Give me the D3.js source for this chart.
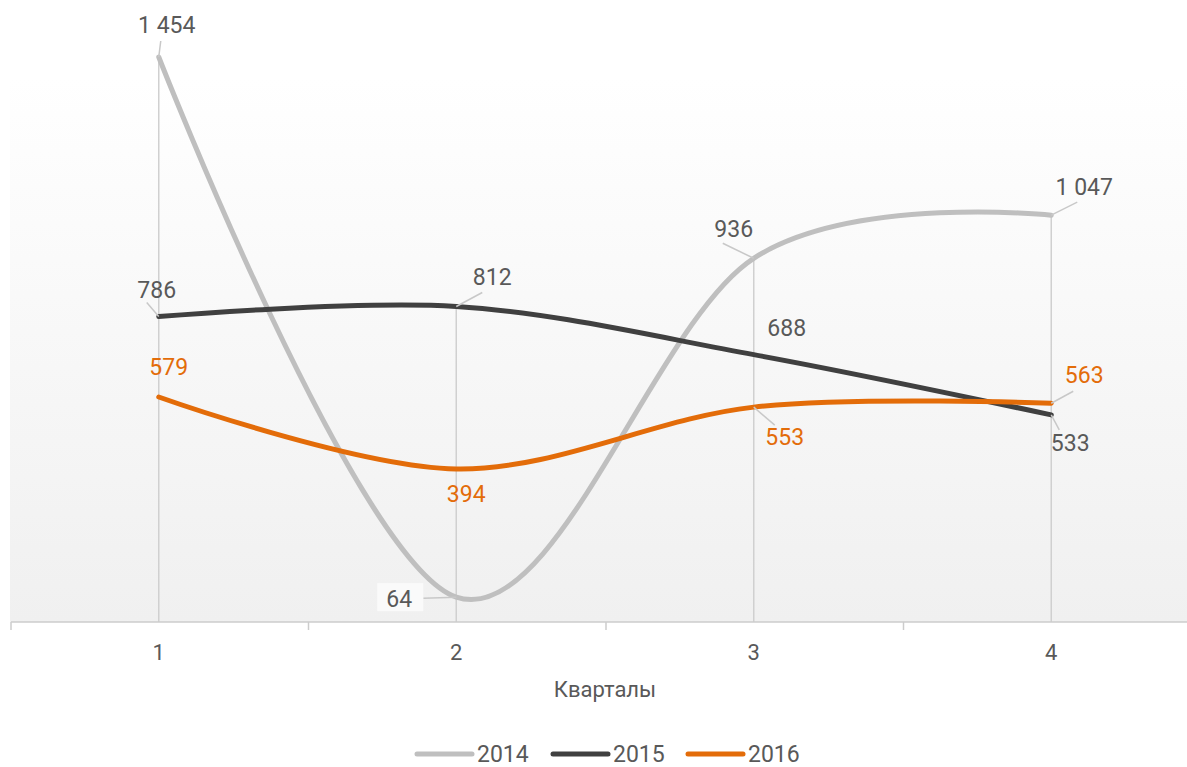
<!DOCTYPE html>
<html>
<head>
<meta charset="utf-8">
<script src="https://cdn.jsdelivr.net/npm/d3@7"></script>
<style>
  body { margin: 0; background: #ffffff; }
  svg { display: block; font-family: Roboto, "Noto Sans", sans-serif; }
</style>
</head>
<body>
<div id="chart"></div>
<script>
// Дані графіка
const quarters = ["1", "2", "3", "4"];
const years = ["2014", "2015", "2016"];
const values2014 = [1454, 64, 936, 1047];
const values2015 = [786, 812, 688, 533];
const values2016 = [579, 394, 553, 563];
const colors = ["#bfbfbf", "#404040", "#e36c09"];
const labelColors = ["#595959", "#595959", "#e36c09"];

const series = [values2014, values2015, values2016];

// Зміщення підписів відносно точок (dx, dy — центр/базова лінія тексту; lx, ly — кінець виноски)
const labelPlacement = [
    [{ dx: 8, dy: -24, lx: 2, ly: -16 }, { dx: -57, dy: 10, lx: -33, ly: 1, box: true }, { dx: -20, dy: -21, lx: -31, ly: -15 }, { dx: 33, dy: -20, lx: 26, ly: -13 }],
    [{ dx: -2, dy: -19, lx: -12, ly: -14 }, { dx: 36, dy: -21, lx: 26, ly: -14 }, { dx: 33, dy: -19 }, { dx: 19, dy: 36, lx: 8, ly: 15 }],
    [{ dx: 10, dy: -22 }, { dx: 10, dy: 33 }, { dx: 31, dy: 38, lx: 21, ly: 18 }, { dx: 33, dy: -20, lx: 22, ly: -12 }]
];

const W = 1187, H = 767;
const plot = { left: 10, right: 1200, top: 78, bottom: 622 };

const svg = d3.select("#chart").append("svg")
    .attr("width", W)
    .attr("height", H);

const x = d3.scaleBand()
    .domain(quarters)
    .range([plot.left, plot.right]);

const y = d3.scaleLinear()
    .domain([0, 1400])
    .range([plot.bottom, plot.top]);

const cx = q => x(q) + x.bandwidth() / 2;

// Фон області побудови з градієнтом
const grad = svg.append("defs").append("linearGradient")
    .attr("id", "bg")
    .attr("x1", 0).attr("y1", 0).attr("x2", 0).attr("y2", 1);
grad.append("stop").attr("offset", "0%").attr("stop-color", "#ffffff");
grad.append("stop").attr("offset", "100%").attr("stop-color", "#f0f0f0");

svg.append("rect")
    .attr("x", plot.left)
    .attr("y", plot.top)
    .attr("width", plot.right - plot.left)
    .attr("height", plot.bottom - plot.top)
    .attr("fill", "url(#bg)");

// Вертикальні лінії від найвищої точки до осі
svg.append("g").selectAll("line")
    .data(quarters)
    .enter()
    .append("line")
    .attr("x1", d => cx(d))
    .attr("x2", d => cx(d))
    .attr("y1", (d, i) => y(d3.max(series, s => s[i])))
    .attr("y2", plot.bottom)
    .attr("stroke", "#d0d0d0")
    .attr("stroke-width", 1.5);

// Вісь X
const xAxis = svg.append("g")
    .attr("transform", `translate(0,${plot.bottom})`);
xAxis.append("line")
    .attr("x1", plot.left + 1).attr("x2", plot.right)
    .attr("stroke", "#cccccc").attr("stroke-width", 1.5);
xAxis.selectAll(".tick")
    .data(quarters)
    .enter()
    .append("line")
    .attr("x1", d => x(d) + 1).attr("x2", d => x(d) + 1)
    .attr("y1", 0).attr("y2", 8)
    .attr("stroke", "#cccccc").attr("stroke-width", 1.5);
xAxis.selectAll("text")
    .data(quarters)
    .enter()
    .append("text")
    .attr("x", d => cx(d))
    .attr("y", 38)
    .attr("text-anchor", "middle")
    .attr("font-size", "22px")
    .attr("fill", "#595959")
    .text(d => d);

svg.append("text")
    .attr("x", 605)
    .attr("y", 697)
    .attr("text-anchor", "middle")
    .attr("font-size", "22px")
    .attr("fill", "#595959")
    .text("Кварталы");

// Лінії серій
const line = d3.line()
    .x((d, i) => cx(quarters[i]))
    .y(d => y(d))
    .curve(d3.curveCardinal.tension(0));

svg.append("g").selectAll("path")
    .data(series)
    .enter()
    .append("path")
    .attr("d", d => line(d))
    .attr("fill", "none")
    .attr("stroke", (d, i) => colors[i])
    .attr("stroke-width", 5)
    .attr("stroke-linecap", "round");

// Підписи даних
series.forEach((s, si) => {
    const g = svg.append("g");
    s.forEach((v, i) => {
        const px = cx(quarters[i]);
        const py = y(v);
        const p = labelPlacement[si][i];
        if (p.lx !== undefined) {
            g.append("line")
                .attr("x1", px).attr("y1", py)
                .attr("x2", px + p.lx).attr("y2", py + p.ly)
                .attr("stroke", "#c8c8c8")
                .attr("stroke-width", 1.5);
        }
        if (p.box) {
            g.append("rect")
                .attr("x", px + p.dx - 22)
                .attr("y", py + p.dy - 24)
                .attr("width", 46)
                .attr("height", 28)
                .attr("fill", "#fafafa");
        }
        g.append("text")
            .attr("x", px + p.dx)
            .attr("y", py + p.dy)
            .attr("text-anchor", "middle")
            .attr("font-size", "23px")
            .attr("fill", labelColors[si])
            .text(d3.format(",")(v).replace(/,/g, " "));
    });
});

// Легенда
const legendX = [417, 553, 688];
const legend = svg.append("g");
years.forEach((yr, i) => {
    legend.append("line")
        .attr("x1", legendX[i]).attr("x2", legendX[i] + 55)
        .attr("y1", 754).attr("y2", 754)
        .attr("stroke", colors[i])
        .attr("stroke-width", 5)
        .attr("stroke-linecap", "round");
    legend.append("text")
        .attr("x", legendX[i] + 60)
        .attr("y", 762)
        .attr("font-size", "23px")
        .attr("fill", "#595959")
        .text(yr);
});
</script>
</body>
</html>
